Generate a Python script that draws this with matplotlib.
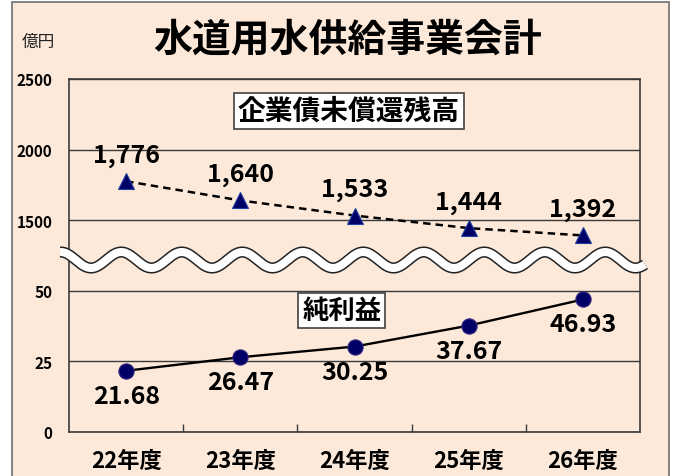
import numpy as np
import matplotlib
matplotlib.use('Agg')
import matplotlib.pyplot as plt
from matplotlib.patches import Rectangle
from matplotlib.lines import Line2D

plt.rcParams['font.family'] = ['Noto Sans CJK JP', 'DejaVu Sans']

# data
years = ['22年度', '23年度', '24年度', '25年度', '26年度']
debt = [1776, 1640, 1533, 1444, 1392]            # 企業債未償還残高 (億円)
profit = [21.68, 26.47, 30.25, 37.67, 46.93]      # 純利益 (億円)
debt_ticks = [1500, 2000, 2500]
profit_ticks = [0, 25, 50]

bg = '#FDE9D9'
navy = '#000066'
grid_c = '#3a3a3a'

W, H = 675, 477
fig = plt.figure(figsize=(W / 100, H / 100), dpi=100, facecolor='white')

# outer frame of the chart
fig.patches.append(Rectangle((12 / W, -0.05), 657 / W, 1.05 - 3 / H,
                             transform=fig.transFigure, facecolor=bg,
                             edgecolor='#7a7a7a', lw=1.3, zorder=-1))

left, width = 69 / W, 571 / W
h = 176.5 / H
bottom = 1 - 433 / H
ax_lo = fig.add_axes([left, bottom, width, h], zorder=1)
ax_hi = fig.add_axes([left, bottom + h, width, h], sharex=ax_lo, zorder=1)

x = np.arange(len(years))
for ax in (ax_hi, ax_lo):
    ax.set_facecolor('none')
    ax.set_xlim(-0.5, len(years) - 0.5)
    for s in ax.spines.values():
        s.set_color(grid_c)
        s.set_linewidth(1.2)
    ax.tick_params(axis='y', length=0, pad=12, labelsize=11)
    ax.yaxis.grid(True, color=grid_c, lw=1.0)
    ax.set_axisbelow(True)

ax_hi.spines['bottom'].set_visible(False)
ax_lo.spines['top'].set_visible(False)

# upper part: debt balance
ax_hi.set_ylim(1250, 2500)
ax_hi.set_yticks(debt_ticks)
ax_hi.set_yticklabels([str(t) for t in debt_ticks], fontweight='bold', fontsize=11)
ax_hi.tick_params(axis='x', which='both', bottom=False, labelbottom=False)
ax_hi.plot(x, debt, color='black', lw=1.8, ls=(0, (3, 2)), zorder=3)
ax_hi.plot(x, debt, ls='none', marker='^', ms=11, mfc=navy, mec='#2040a0',
           mew=0.8, zorder=4, clip_on=False)
for xi, v in zip(x, debt):
    ax_hi.annotate(f'{v:,}', (xi, v), xytext=(0, 19), textcoords='offset points',
                   ha='center', va='center', fontsize=18, fontweight='bold')

# lower part: net profit
ax_lo.set_ylim(0, 62.5)
ax_lo.set_yticks(profit_ticks)
ax_lo.set_yticklabels([str(t) for t in profit_ticks], fontweight='bold', fontsize=11)
ax_lo.plot(x, profit, color='black', lw=1.7, zorder=3)
ax_lo.plot(x, profit, ls='none', marker='o', ms=11, mfc=navy, mec='#3a2a80',
           mew=0.8, zorder=4, clip_on=False)
for xi, v in zip(x, profit):
    ax_lo.annotate(f'{v:.2f}', (xi, v), xytext=(0, -18), textcoords='offset points',
                   ha='center', va='center', fontsize=18, fontweight='bold')

ax_lo.set_xticks(x)
ax_lo.set_xticklabels(years, fontsize=16, fontweight='bold')
ax_lo.tick_params(axis='x', which='major', length=0, pad=12)
ax_lo.set_xticks(x[:-1] + 0.5, minor=True)
ax_lo.tick_params(axis='x', which='minor', direction='in', length=6,
                  color=grid_c, width=1)

# series name boxes
box = dict(boxstyle='square,pad=0.15', fc='white', ec='#404040', lw=1.2)
ax_hi.text(0.49, 0.82, '企業債未償還残高', transform=ax_hi.transAxes, ha='center',
           va='center', fontsize=20, fontweight='bold', bbox=box)
ax_lo.text(0.478, 0.69, '純利益', transform=ax_lo.transAxes, ha='center',
           va='center', fontsize=19, fontweight='bold', bbox=box)

# wavy break mark
wx = np.linspace(60, 645, 600)
wy = 261 + 8 * np.cos(2 * np.pi * (wx - 91) / 60.5)
fx, fy = wx / W, 1 - wy / H
fig.lines.append(Line2D(fx, fy, transform=fig.transFigure, color='#222222',
                        lw=8.0, solid_capstyle='butt', zorder=5))
fig.lines.append(Line2D(fx, fy, transform=fig.transFigure, color='white',
                        lw=5.8, solid_capstyle='butt', zorder=6))

# title and unit
fig.text(348 / W, 1 - 40 / H, '水道用水供給事業会計', ha='center', va='center',
         fontsize=28, fontweight='bold')
fig.text(38 / W, 1 - 42 / H, '億円', ha='center', va='center', fontsize=12,
         color='#222222')

fig.savefig('out.png', dpi=100, facecolor='white')
